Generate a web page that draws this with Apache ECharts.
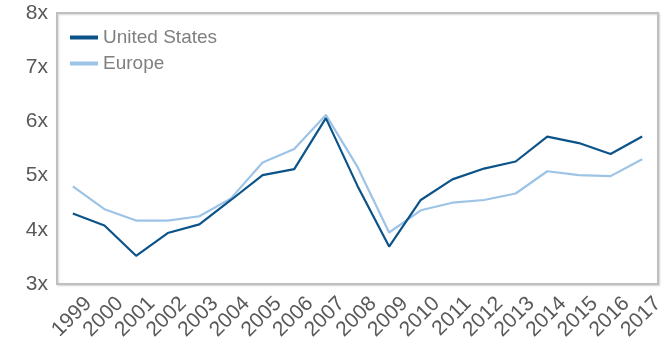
<!DOCTYPE html>
<html><head><meta charset="utf-8">
<script src="https://cdn.jsdelivr.net/npm/echarts@6/dist/echarts.min.js"></script>
<style>html,body{margin:0;padding:0;background:#fff}#c{width:670px;height:347px}</style>
</head><body><div id="c"></div>
<script>
const years = ['1999','2000','2001','2002','2003','2004','2005','2006','2007','2008','2009','2010','2011','2012','2013','2014','2015','2016','2017'];
const unitedStates = [4.30,4.08,3.52,3.94,4.10,4.55,5.01,5.12,6.06,4.81,3.69,4.55,4.93,5.13,5.26,5.72,5.60,5.40,5.72];
const europe = [4.80,4.38,4.17,4.17,4.25,4.58,5.24,5.49,6.12,5.16,3.95,4.36,4.50,4.55,4.67,5.08,5.01,4.99,5.30];
const yTicks = [3,4,5,6,7,8];

const FONT = 'Liberation Sans, Arial, sans-serif';
const chart = echarts.init(document.getElementById('c'), null, {renderer:'canvas'});
chart.setOption({
  animation:false,
  textStyle:{fontFamily:FONT},
  grid:{left:57,top:13,right:12,bottom:63,show:true,borderColor:'#bfbfbf',borderWidth:2,backgroundColor:'#fff',
    shadowColor:'rgba(0,0,0,0.15)',shadowBlur:2,shadowOffsetX:1,shadowOffsetY:1},
  legend:{
    left:65,top:23,orient:'vertical',itemGap:7,itemWidth:28,itemHeight:4,
    icon:'rect',
    textStyle:{color:'#7f7f7f',fontSize:19,fontFamily:FONT},
    data:['United States','Europe']
  },
  xAxis:{
    type:'category',data:years,boundaryGap:true,
    axisLine:{show:false},axisTick:{show:false},
    axisLabel:{rotate:45,color:'#595959',fontSize:21,margin:32,interval:0,
      padding:[0,-22,0,0],fontFamily:FONT}
  },
  yAxis:{
    type:'value',min:yTicks[0],max:yTicks[yTicks.length-1],interval:1,
    splitLine:{show:false},axisLine:{show:false},axisTick:{show:false},
    axisLabel:{color:'#595959',fontSize:21,margin:9,formatter:v=>v+'x',fontFamily:FONT}
  },
  series:[
    {name:'United States',type:'line',data:unitedStates,symbol:'none',
      lineStyle:{color:'#0b5389',width:2.2},itemStyle:{color:'#0b5389'},z:3},
    {name:'Europe',type:'line',data:europe,symbol:'none',
      lineStyle:{color:'#9dc3e6',width:2.2},itemStyle:{color:'#9dc3e6'},z:2}
  ]
});
</script></body></html>
